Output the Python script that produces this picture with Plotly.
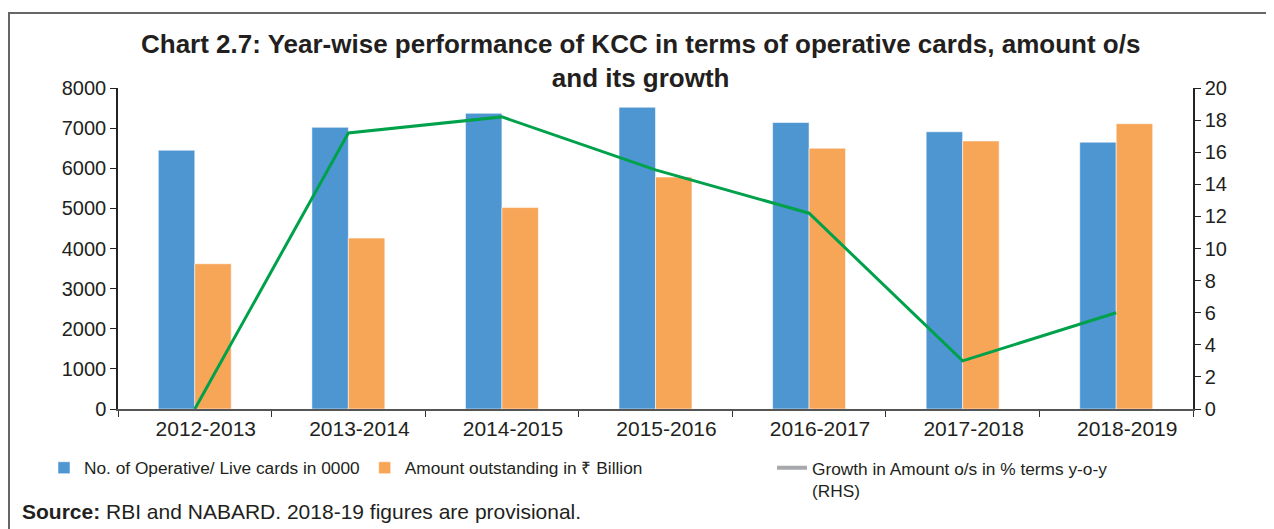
import plotly.graph_objects as go

years = ["2012-2013", "2013-2014", "2014-2015", "2015-2016", "2016-2017", "2017-2018", "2018-2019"]
live_cards = [6450, 7020, 7370, 7520, 7140, 6910, 6650]
amount_outstanding = [3620, 4260, 5020, 5780, 6500, 6680, 7110]
growth_pct = [0.0, 17.2, 18.2, 14.9, 12.2, 3.0, 6.0]

name_cards = "No. of Operative/ Live cards in 0000"
name_amount = "Amount outstanding in ₹ Billion"
name_growth = "Growth in Amount o/s in % terms y-o-y<br>(RHS)"

FONT = "Liberation Sans, Arial, sans-serif"
TXT = "#231F20"

OFF = 8  # page offset of the figure
W, H = 1274 - OFF, 529 - OFF
# plot area in page pixels
L, R, T, B = 118, 1193, 88, 409


def px(xp):
    return (xp - L) / (R - L)


def py(yp):
    return (B - yp) / (B - T)


fig = go.Figure()
fig.add_trace(go.Bar(x=years, y=live_cards, name=name_cards,
                     marker=dict(color="#4E96D1", line=dict(color="rgba(255,255,255,0.55)", width=1))))
fig.add_trace(go.Bar(x=years, y=amount_outstanding, name=name_amount,
                     marker=dict(color="#F7A557", line=dict(color="rgba(255,255,255,0.55)", width=1))))
fig.add_trace(go.Scatter(x=years, y=growth_pct, yaxis="y2", mode="lines", showlegend=False,
                         line=dict(color="#00A14B", width=3)))
fig.add_trace(go.Scatter(x=[None], y=[None], yaxis="y2", mode="lines", name=name_growth,
                         legend="legend2", line=dict(color="#A6A8AB", width=4)))

fig.update_layout(
    width=W, height=H,
    margin=dict(l=L - OFF, r=(OFF + W) - R, t=T - OFF, b=(OFF + H) - B, pad=0),
    paper_bgcolor="white", plot_bgcolor="white",
    font=dict(family=FONT, color=TXT, size=18),
    barmode="group", bargap=0.525, bargroupgap=0,
    xaxis=dict(type="category", tickson="boundaries", ticks="outside", ticklen=6,
               tickcolor="#333", showline=True, linecolor="#555", linewidth=1.5,
               tickfont=dict(size=21, color=TXT), showgrid=False, ticklabelshift=11),
    yaxis=dict(range=[0, 8000], dtick=1000, ticks="outside", ticklen=6, tickcolor="#222",
               showline=True, linecolor="#222", linewidth=1.5, showgrid=False, zeroline=False,
               tickfont=dict(size=20, color=TXT)),
    yaxis2=dict(range=[0, 20], dtick=2, overlaying="y", side="right", ticks="outside",
                ticklen=6, tickcolor="#222", showline=True, linecolor="#222", linewidth=1.5,
                showgrid=False, zeroline=False, tickfont=dict(size=20, color=TXT)),
    legend=dict(orientation="h", x=px(44), xanchor="left", y=py(450), yanchor="top",
                font=dict(size=17.3, color=TXT), valign="top", traceorder="normal",
                bgcolor="rgba(0,0,0,0)"),
    legend2=dict(orientation="h", x=px(772), xanchor="left", y=py(450), yanchor="top",
                 font=dict(size=17.3, color=TXT), valign="top",
                 bgcolor="rgba(0,0,0,0)"),
    showlegend=True,
)

fig.add_annotation(
    text="<b>Chart 2.7: Year-wise performance of KCC in terms of operative cards, amount o/s<br>and its growth</b>",
    xref="paper", yref="paper", x=px(640), y=py(61), xanchor="center", yanchor="middle",
    showarrow=False, font=dict(size=26, color=TXT, family=FONT), align="center")

fig.add_annotation(
    text="<b>Source:</b> RBI and NABARD. 2018-19 figures are provisional.",
    xref="paper", yref="paper", x=px(20), y=py(511), xanchor="left", yanchor="middle",
    showarrow=False, font=dict(size=21, color=TXT, family=FONT), align="left")

fig.add_shape(type="rect", xref="paper", yref="paper",
              x0=px(9), x1=px(1290), y0=py(545), y1=py(13),
              line=dict(color="#666", width=2), fillcolor="rgba(0,0,0,0)", layer="below")

fig.write_html("out.html")
